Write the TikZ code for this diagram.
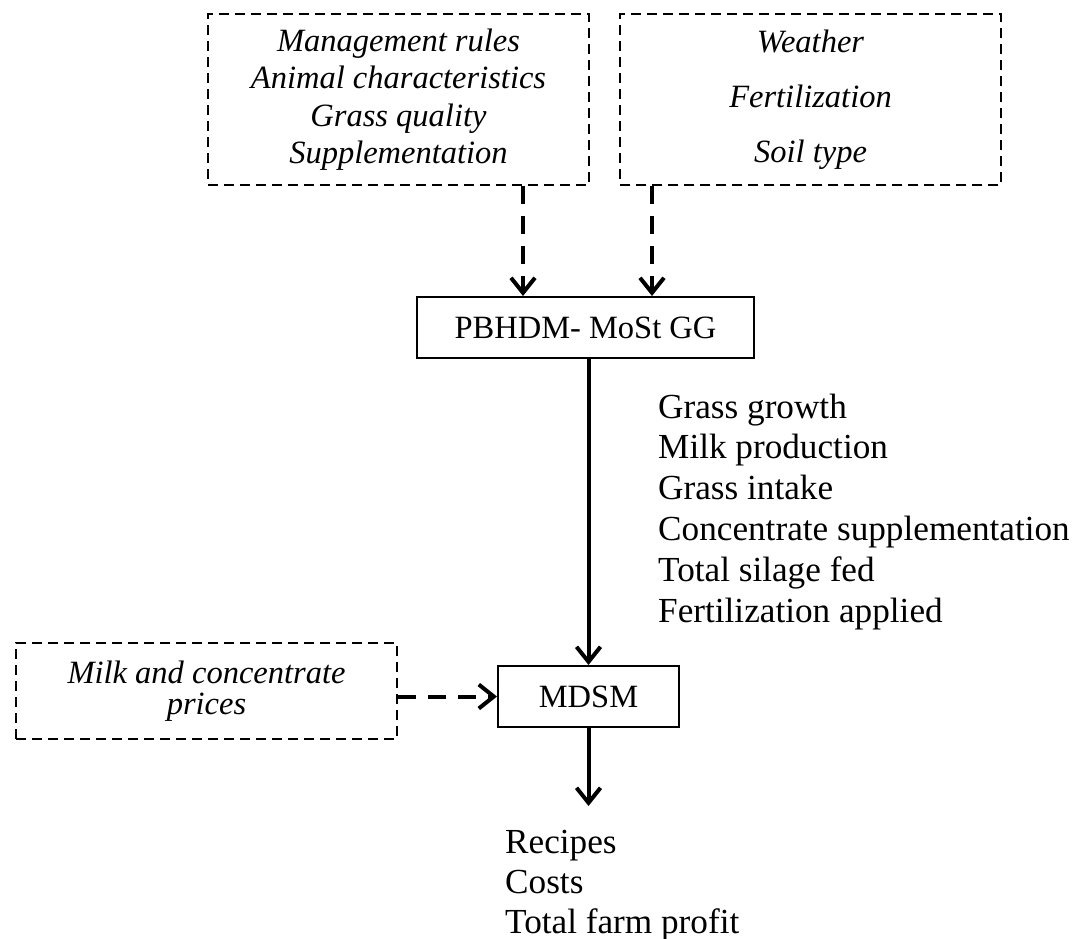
\documentclass[tikz,border=0pt]{standalone}
\usepackage{fontspec}
\setmainfont{Liberation Serif}
\usetikzlibrary{arrows.meta}
\tikzset{
  inbox/.style={draw,line width=2pt,dash pattern=on 10pt off 6pt,minimum width=381pt,inner sep=0pt,align=center},
  modbox/.style={draw,line width=2pt,minimum height=61pt,inner sep=0pt},
  outtext/.style={anchor=base west,inner sep=0pt,font=\fontsize{35.2}{40.8}\selectfont},
  dasharr/.style={line width=4pt,dash pattern=on 18pt off 12pt},
  solarr/.style={line width=4pt}
}
\begin{document}
\begin{tikzpicture}[x=1pt,y=-1pt,font=\fontsize{32.5}{40}\selectfont,>={Straight Barb[length=15pt,width=24pt]}]
      \useasboundingbox (0,0) rectangle (1076,939);
      \node[inbox,minimum height=171pt,font=\itshape\fontsize{32.5}{37.5}\selectfont](I1) at(398.5,99.5){Management rules\\Animal characteristics\\Grass quality\\Supplementation};
      \node[inbox,minimum height=171pt,font=\itshape\fontsize{32.5}{55}\selectfont](I2) at(810.5,99.5){Weather\\Fertilization\\Soil type};
      \node[modbox,minimum width=337pt](P) at(585.5,327.5){PBHDM- MoSt GG};
      \node[modbox,minimum width=181pt](M) at(588.5,696.5){MDSM};
      \node[inbox,minimum height=96pt,font=\itshape\fontsize{32.5}{31}\selectfont](C) at(206.5,691){Milk and concentrate\\prices};
      \coordinate(R) at(588.5,806);
      \foreach \t [count=\i from 0] in {Grass growth, Milk production, Grass intake, Concentrate supplementation, Total silage fed, Fertilization applied}{
        \node[outtext](O\i) at(658,418+40.8*\i){\t};
      }
      \foreach \t [count=\i from 0] in {Recipes, Costs, Total farm profit}{
        \node[outtext](F\i) at(505,853+40*\i){\t};
      }
      \draw[dasharr,->]([xshift=-62.5pt]P.north |- I1.south) -- ([xshift=-62.5pt]P.north);
      \draw[dasharr,->]([xshift=66.5pt]P.north |- I2.south) -- ([xshift=66.5pt]P.north);
      \draw[solarr,->](P.south -| M.north) -- (M.north);
      \draw[dasharr,->](C.east |- M.west) -- (M.west);
      \draw[solarr,->](M.south) -- (R);
    \end{tikzpicture}
\end{document}
